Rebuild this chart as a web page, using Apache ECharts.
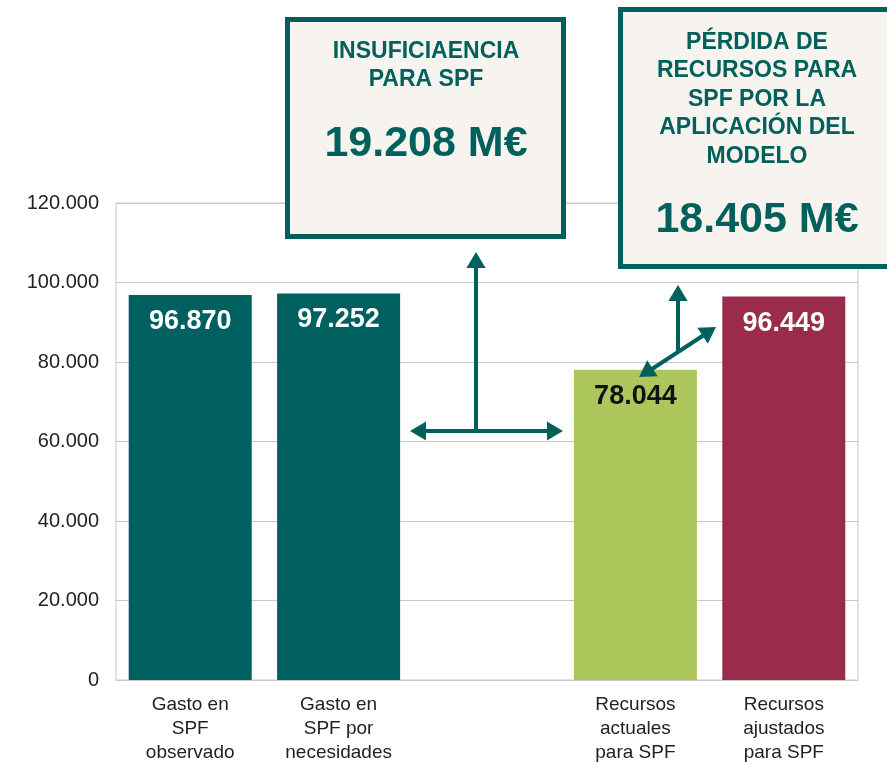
<!DOCTYPE html>
<html><head><meta charset="utf-8">
<script src="https://cdn.jsdelivr.net/npm/echarts@6/dist/echarts.min.js"></script>
<style>html,body{margin:0;padding:0;background:#fff}#c{width:887px;height:765px}</style>
</head><body><div id="c"></div>
<script>
const categories = ['Gasto en\nSPF\nobservado', 'Gasto en\nSPF por\nnecesidades', '', 'Recursos\nactuales\npara SPF', 'Recursos\najustados\npara SPF'];
const values = [96870, 97252, null, 78044, 96449];
const barColors = ['#005F5F', '#005F5F', '#005F5F', '#ADC65B', '#9B2B4B'];
const labelColors = ['#ffffff', '#ffffff', '#ffffff', '#111111', '#ffffff'];
const box1Title = 'INSUFICIAENCIA\nPARA SPF';
const box1Value = '19.208 M€';
const box2Title = 'PÉRDIDA DE\nRECURSOS PARA\nSPF POR LA\nAPLICACIÓN DEL\nMODELO';
const box2Value = '18.405 M€';

const fmt = v => String(v).replace(/\B(?=(\d{3})+(?!\d))/g, '.');
const teal = '#00605C';
const chart = echarts.init(document.getElementById('c'));

function arrowHead(x, y, angle, size) {
  const w = size * 0.6;
  const bx = x - Math.cos(angle) * size, by = y - Math.sin(angle) * size;
  const px = -Math.sin(angle) * w, py = Math.cos(angle) * w;
  return {type: 'polygon', shape: {points: [[x, y], [bx + px, by + py], [bx - px, by - py]]}, style: {fill: teal}, z: 20};
}
function line(x1, y1, x2, y2) {
  return {type: 'line', shape: {x1, y1, x2, y2}, style: {stroke: teal, lineWidth: 4}, z: 20};
}

const graphics = [
  line(420, 431, 553, 431),
  arrowHead(410, 431, Math.PI, 16),
  arrowHead(563, 431, 0, 16),
  line(476, 431, 476, 264),
  arrowHead(476, 252, -Math.PI / 2, 16),
  line(649, 371, 707, 333),
  arrowHead(639, 377, Math.atan2(377 - 327, 639 - 716), 16),
  arrowHead(716, 327, Math.atan2(327 - 377, 716 - 639), 16),
  line(678, 352, 678, 297),
  arrowHead(678, 285, -Math.PI / 2, 16),
  {type: 'rect', shape: {x: 287.5, y: 19.5, width: 276, height: 217}, style: {fill: '#F7F4EF', stroke: teal, lineWidth: 5}, z: 30},
  {type: 'text', x: 426, y: 38, style: {text: box1Title, font: 'bold 23px "Liberation Sans", Arial, sans-serif', fill: teal, align: 'center', lineHeight: 28}, z: 31},
  {type: 'text', x: 426, y: 123, style: {text: box1Value, font: 'bold 43px "Liberation Sans", Arial, sans-serif', fill: teal, align: 'center'}, z: 31},
  {type: 'rect', shape: {x: 620.5, y: 9.5, width: 275, height: 257}, style: {fill: '#F7F4EF', stroke: teal, lineWidth: 5}, z: 30},
  {type: 'text', x: 757, y: 28, style: {text: box2Title, font: 'bold 23px "Liberation Sans", Arial, sans-serif', fill: teal, align: 'center', lineHeight: 28.5}, z: 31},
  {type: 'text', x: 757, y: 199, style: {text: box2Value, font: 'bold 43px "Liberation Sans", Arial, sans-serif', fill: teal, align: 'center'}, z: 31}
];

chart.setOption({
  animation: false,
  backgroundColor: '#ffffff',
  grid: {left: 116, right: 29, top: 203, bottom: 85, show: true, borderColor: '#C8C8C8', borderWidth: 1},
  xAxis: {
    type: 'category', data: categories,
    axisLine: {show: true, lineStyle: {color: '#C8C8C8'}},
    axisTick: {show: false},
    axisLabel: {color: '#222', fontSize: 19, fontFamily: '"Liberation Sans", Arial, sans-serif', lineHeight: 24, margin: 13, interval: 0}
  },
  yAxis: {
    type: 'value', min: 0, max: 120000, interval: 20000,
    axisLine: {show: false}, axisTick: {show: false},
    splitLine: {lineStyle: {color: '#C8C8C8', width: 1}},
    axisLabel: {color: '#222', fontSize: 20, fontFamily: '"Liberation Sans", Arial, sans-serif', margin: 17, formatter: v => fmt(v)}
  },
  series: [{
    type: 'bar', barWidth: 123,
    data: values.map((v, i) => ({value: v, itemStyle: {color: barColors[i]}, label: {color: labelColors[i]}})),
    label: {show: true, position: 'insideTop', distance: 13, fontSize: 27, fontWeight: 'bold', fontFamily: '"Liberation Sans", Arial, sans-serif', formatter: p => fmt(p.value)}
  }],
  graphic: graphics
});
</script></body></html>
